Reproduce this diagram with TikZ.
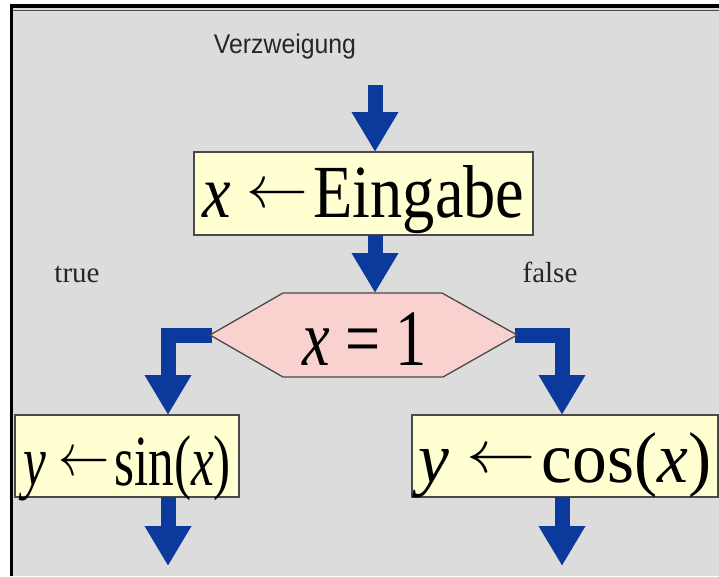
\documentclass[tikz,border=0pt]{standalone}
\usepackage{fontspec}
\usepackage{graphicx}
\setmainfont{Liberation Serif}
\newfontfamily\arialf{Liberation Sans}
\usetikzlibrary{arrows.meta}
\definecolor{bg}{HTML}{DCDCDC}
\definecolor{arrowblue}{HTML}{0C3A9C}
\definecolor{boxyellow}{HTML}{FFFFD2}
\definecolor{hexpink}{HTML}{F9D2D0}
\definecolor{edgec}{HTML}{4A4A4A}
\newcommand{\fitw}[3]{\resizebox{#1}{\height}{\fontsize{#2}{#2}\selectfont #3}}
\newcommand{\larr}{\hspace{18pt}\raisebox{10pt}{\scalebox{7.2}[6]{\fontsize{10}{12}\selectfont$\leftarrow$}}\hspace{6pt}}
\begin{document}
\begin{tikzpicture}[x=1pt,y=-1pt,
  flow/.style={draw=arrowblue, line width=15pt, line join=miter,
    -{Triangle[width=44pt,length=40pt]}},
  box/.style={draw=edgec, line width=1.3pt, fill=boxyellow, inner sep=0pt,
    outer sep=0pt},
  lbl/.style={font=\fontsize{29}{30}\selectfont, text=black!85, anchor=base}
]
\useasboundingbox (0,0) rectangle (719,576);
\fill[white] (0,0) rectangle (719,576);
\fill[bg] (11,6) rectangle (719,576);
\draw[black, line width=3pt] (11.5,576) -- (11.5,6);
\draw[black, line width=4pt] (10,6) -- (719,6);
\draw[black!70, line width=1pt] (13,10) -- (719,10);

% title
\node[text=black!85, anchor=base] (title) at (285,53) {\fitw{142pt}{27}{\arialf Verzweigung}};

% boxes
\node[box, minimum width=339pt, minimum height=83pt, text height=60pt, text depth=13pt]
  (eing) at (363.5,193.5) {\fitw{322pt}{75}{\textit{x}\larr Eingabe}};
\node[box, minimum width=224pt, minimum height=82pt, text height=66pt, text depth=8pt]
  (sinb) at (127,456) {\fitw{208pt}{72}{\textit{y}\larr sin(\textit{x})}};
\node[box, minimum width=306pt, minimum height=82pt, text height=62pt, text depth=10pt]
  (cosb) at (565,456) {\fitw{293pt}{72}{\textit{y}\larr cos(\textit{x})}};

% labels
\node[lbl] (truel) at (77,282) {true};
\node[lbl] (falsel) at (550,282) {false};

% coordinates
\coordinate (top) at (375,85);
\coordinate (hl) at (210,335);
\coordinate (hr) at (517,335);
\coordinate (ht) at (375,293);
\coordinate (lt) at (168,415);
\coordinate (rt) at (562,415);
\coordinate (lb) at (168,566);
\coordinate (rb) at (562,566);

% connectors
\draw[flow] (top) -- (eing.north -| top);
\draw[flow] (eing.south -| top) -- (ht);
\draw[flow] ([xshift=2pt]hl) -| (lt);
\draw[flow] ([xshift=-2pt]hr) -| (rt);
\draw[flow] (sinb.south -| lt) -- (lb);
\draw[flow] (cosb.south -| rt) -- (rb);

% hexagon
\draw[draw=edgec, line width=1.3pt, fill=hexpink] (283,293) -- (442,293) -- (hr) -- (443,377) -- (283,377) -- (hl) -- cycle;
\node[text height=70pt, text depth=8pt, inner sep=0pt] (cond) at (364.5,334) {\fitw{125pt}{80}{\textit{x} = 1}};
\end{tikzpicture}
\end{document}
